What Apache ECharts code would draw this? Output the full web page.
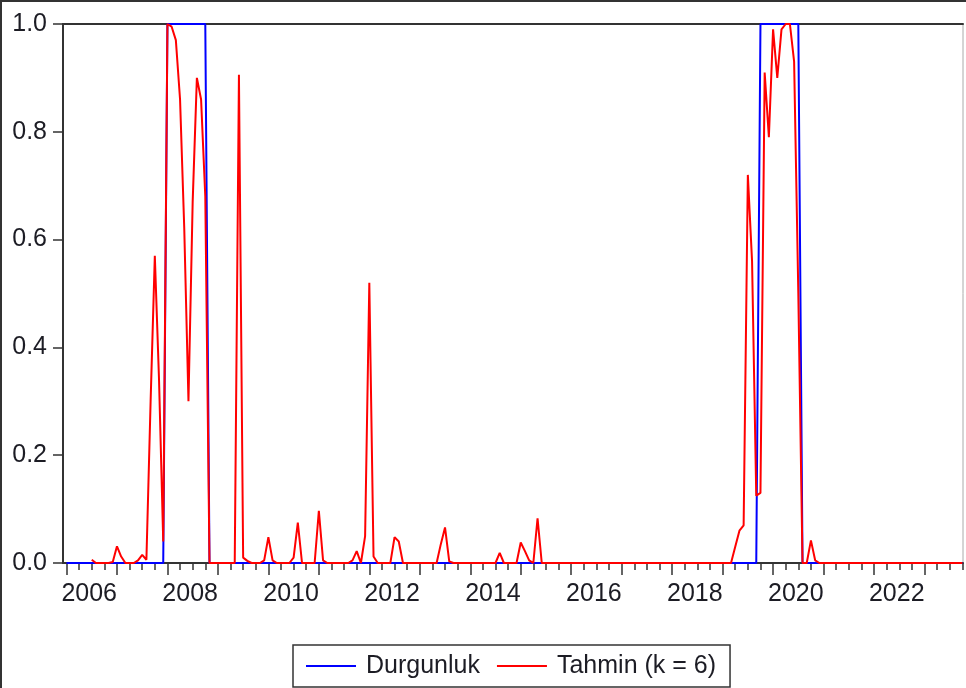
<!DOCTYPE html>
<html>
<head>
<meta charset="utf-8">
<script src="https://cdn.jsdelivr.net/npm/echarts@6/dist/echarts.min.js"></script>
<style>
html, body { margin: 0; padding: 0; background: #fff; }
#container { width: 966px; height: 688px; }
</style>
</head>
<body>
<div id="container"></div>
<script>
// monthly data, 2006M01 .. 2023M10
var startYear = 2006;

var durgunluk = [
  0,0,0,0,0,0,0,0,0,0,0,0,            // 2006
  0,0,0,0,0,0,0,0,0,0,0,0,            // 2007
  1,1,1,1,1,1,1,1,1,1,0,0,            // 2008
  0,0,0,0,0,0,0,0,0,0,0,0,            // 2009
  0,0,0,0,0,0,0,0,0,0,0,0,            // 2010
  0,0,0,0,0,0,0,0,0,0,0,0,            // 2011
  0,0,0,0,0,0,0,0,0,0,0,0,            // 2012
  0,0,0,0,0,0,0,0,0,0,0,0,            // 2013
  0,0,0,0,0,0,0,0,0,0,0,0,            // 2014
  0,0,0,0,0,0,0,0,0,0,0,0,            // 2015
  0,0,0,0,0,0,0,0,0,0,0,0,            // 2016
  0,0,0,0,0,0,0,0,0,0,0,0,            // 2017
  0,0,0,0,0,0,0,0,0,0,0,0,            // 2018
  0,0,0,0,0,0,0,0,0,1,1,1,            // 2019
  1,1,1,1,1,1,1,0,0,0,0,0,            // 2020
  0,0,0,0,0,0,0,0,0,0,0,0,            // 2021
  0,0,0,0,0,0,0,0,0,0,0,0,            // 2022
  0,0,0,0,0,0,0,0,0,0                 // 2023
];

var tahmin = [
  null,null,null,null,null,null,0.006,0,0,0,0,0.002,          // 2006
  0.031,0.012,0,0,0,0.005,0.015,0.006,0.3,0.57,0.34,0.04,     // 2007
  1.0,0.995,0.97,0.86,0.62,0.3,0.67,0.9,0.86,0.68,0,0,        // 2008
  0,0,0,0,0,0.906,0.01,0.004,0,0,0,0.005,                     // 2009
  0.048,0.005,0,0,0,0,0.01,0.075,0,0,0,0,                     // 2010
  0.097,0.005,0,0,0,0,0,0,0.005,0.022,0,0.05,                 // 2011
  0.52,0.012,0,0,0,0,0.048,0.04,0,0,0,0,                      // 2012
  0,0,0,0,0,0.035,0.066,0.003,0,0,0,0,                        // 2013
  0,0,0,0,0,0,0,0.019,0,0,0,0,                                // 2014
  0.038,0.022,0.005,0,0.083,0,0,0,0,0,0,0,                    // 2015
  0,0,0,0,0,0,0,0,0,0,0,0,                                    // 2016
  0,0,0,0,0,0,0,0,0,0,0,0,                                    // 2017
  0,0,0,0,0,0,0,0,0,0,0,0,                                    // 2018
  0,0,0,0.03,0.06,0.07,0.72,0.56,0.125,0.13,0.91,0.79,        // 2019
  0.99,0.9,0.99,1.0,1.0,0.93,0.5,0,0,0.042,0.005,0,           // 2020
  0,0,0,0,0,0,0,0,0,0,0,0,                                    // 2021
  0,0,0,0,0,0,0,0,0,0,0,0,                                    // 2022
  0,0,0,0,0,0,0,0,0,0                                         // 2023
];

var labelYears = [2006, 2008, 2010, 2012, 2014, 2016, 2018, 2020, 2022];

var xMin = 2005.9307;
var xMax = 2023.763;

var yearTicks = [];
var quarterTicks = [];
for (var y = 2006; y <= 2023; y++) {
    yearTicks.push(y);
    for (var q = 0; q < 4; q++) {
        if (y + q * 0.25 <= 2023.75) quarterTicks.push(y + q * 0.25);
    }
}
// EViews puts the year text in the middle of the year
var labelPos = labelYears.map(function (y) { return y + 0.45; });

function toPairs(values) {
    return values.map(function (v, i) { return [startYear + i / 12, v]; });
}

var dom = document.getElementById('container');
var myChart = echarts.init(dom, null, { renderer: 'canvas' });

var axisColor = '#333';
var txtColor = '#1c1c24';
var font = 'Liberation Sans, Arial, sans-serif';
var fs = 25;

var option = {
    animation: false,
    backgroundColor: '#fff',
    textStyle: { fontFamily: font },
    grid: {
        left: 63, top: 24, width: 900, height: 539,
        show: true, borderColor: '#aaa', borderWidth: 1, backgroundColor: '#fff'
    },
    legend: {
        left: 293, top: 645,
        padding: [8, 14, 8, 13],
        itemWidth: 50, itemHeight: 2, itemGap: 17,
        icon: 'rect',
        borderColor: axisColor, borderWidth: 1.5,
        textStyle: { fontSize: fs, color: txtColor, fontFamily: font, padding: [0, 0, 0, 5], lineHeight: 26 },
        data: ['Durgunluk', 'Tahmin (k = 6)']
    },
    xAxis: [
        {
            type: 'value', min: xMin, max: xMax, position: 'bottom',
            axisLine: { show: true, onZero: false, lineStyle: { color: axisColor, width: 2 } },
            axisTick: { show: true, length: 7, customValues: quarterTicks, lineStyle: { color: axisColor, width: 1.5 } },
            axisLabel: {
                show: true, customValues: labelPos, margin: 19,
                fontSize: fs, color: txtColor, fontFamily: font,
                formatter: function (v) { return String(Math.floor(v)); }
            },
            splitLine: { show: false }
        },
        {
            type: 'value', min: xMin, max: xMax, position: 'bottom',
            axisLine: { show: false, onZero: false },
            axisTick: { show: true, length: 12, customValues: yearTicks, lineStyle: { color: axisColor, width: 1.5 } },
            axisLabel: { show: false },
            splitLine: { show: false }
        },
        {
            type: 'value', min: xMin, max: xMax, position: 'top',
            axisLine: { show: true, onZero: false, lineStyle: { color: axisColor, width: 2 } },
            axisTick: { show: false },
            axisLabel: { show: false },
            splitLine: { show: false }
        }
    ],
    yAxis: {
        type: 'value', min: 0, max: 1, interval: 0.2,
        axisLine: { show: true, lineStyle: { color: axisColor, width: 2 } },
        axisTick: { show: true, length: 10, lineStyle: { color: axisColor, width: 1.5 } },
        axisLabel: {
            fontSize: fs, color: txtColor, margin: 16, fontFamily: font,
            formatter: function (v) { return v.toFixed(1); }
        },
        splitLine: { show: false }
    },
    series: [
        {
            name: 'Durgunluk', type: 'line', xAxisIndex: 0,
            data: toPairs(durgunluk),
            symbol: 'none', showSymbol: false,
            lineStyle: { color: '#0000ff', width: 2 },
            itemStyle: { color: '#0000ff' },
            z: 2
        },
        {
            name: 'Tahmin (k = 6)', type: 'line', xAxisIndex: 0,
            data: toPairs(tahmin),
            symbol: 'none', showSymbol: false,
            lineStyle: { color: '#ff0000', width: 2 },
            itemStyle: { color: '#ff0000' },
            z: 3
        }
    ],
    graphic: [
        { type: 'line', shape: { x1: 0, y1: 1, x2: 966, y2: 1 }, style: { stroke: axisColor, lineWidth: 2 } },
        { type: 'line', shape: { x1: 1, y1: 0, x2: 1, y2: 688 }, style: { stroke: axisColor, lineWidth: 2 } }
    ]
};

if (option && typeof option === 'object') {
    myChart.setOption(option);
}
</script>
</body>
</html>
